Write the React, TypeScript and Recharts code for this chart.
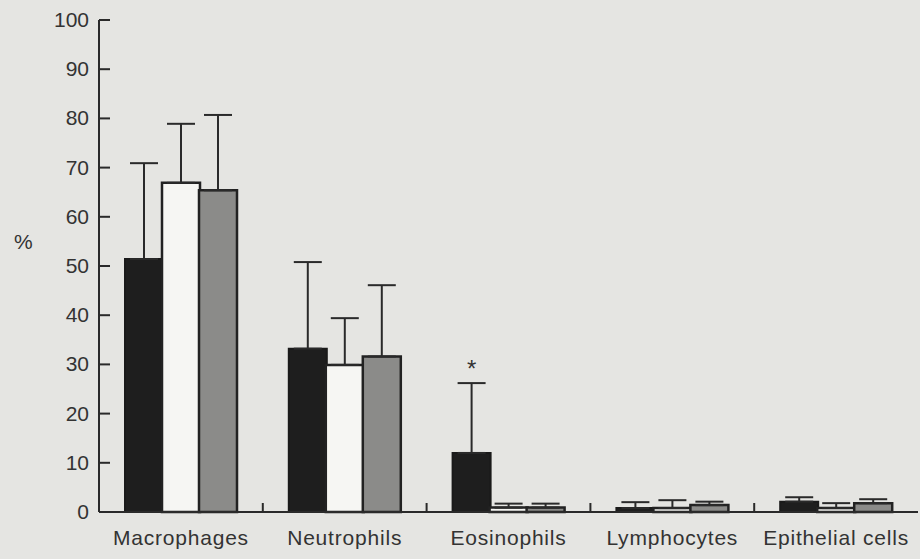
import { BarChart, Bar, XAxis, YAxis, ErrorBar, LabelList } from "recharts";

const categories = ["Macrophages", "Neutrophils", "Eosinophils", "Lymphocytes", "Epithelial cells"];

// group 1 (black), group 2 (white), group 3 (grey): mean and upper SD in %
const blackMean = [51.4, 33.2, 12, 0.8, 2.1];
const blackSd = [19.5, 17.6, 14.2, 1.2, 0.9];
const whiteMean = [66.9, 29.9, 0.9, 0.8, 0.8];
const whiteSd = [12, 9.5, 0.8, 1.6, 1.0];
const greyMean = [65.4, 31.6, 0.9, 1.4, 1.8];
const greySd = [15.3, 14.5, 0.8, 0.7, 0.8];
const significance = ["", "", "*", "", ""];

const yTicks = [0, 10, 20, 30, 40, 50, 60, 70, 80, 90, 100];

const data = categories.map((name, i) => ({
  name,
  black: blackMean[i],
  white: whiteMean[i],
  grey: greyMean[i],
  sig: significance[i],
}));

const W = 920;
const H = 559;
const Y_AXIS_W = 99;
const MARGIN = { top: 20, right: 2, left: 0, bottom: 0 };
const PLOT_W = W - Y_AXIS_W - MARGIN.left - MARGIN.right;
const INK = "#2a2a2a";
const FONT = "'Liberation Sans', Arial, Helvetica, sans-serif";

function YTick(props: any) {
  const { x, y, payload } = props;
  const axisX = x + 10;
  return (
    <g>
      <line x1={axisX} x2={axisX + 11} y1={y} y2={y} stroke={INK} strokeWidth={2} />
      <text x={x} y={y} dy={7} textAnchor="end" fontSize={21} fill="#333" fontFamily={FONT}>
        {payload.value}
      </text>
    </g>
  );
}

function XTick(props: any) {
  const { x, y, payload, index } = props;
  const band = PLOT_W / categories.length;
  const bx = x - band / 2;
  return (
    <g>
      {index > 0 && (
        <line x1={bx} x2={bx} y1={y} y2={y - 9} stroke={INK} strokeWidth={2} />
      )}
      <text
        x={x}
        y={y}
        dy={33}
        textAnchor="middle"
        fontSize={21}
        letterSpacing={0.8}
        fill="#333"
        fontFamily={FONT}
      >
        {payload.value}
      </text>
    </g>
  );
}

function Star(props: any) {
  const { x, y, width, height, index } = props;
  const s = significance[index];
  if (!s) return null;
  const pxPerUnit = height / blackMean[index];
  const top = y - pxPerUnit * blackSd[index];
  return (
    <text x={x + width / 2} y={top - 6} textAnchor="middle" fontSize={24} fill="#333" fontFamily={FONT}>
      {s}
    </text>
  );
}

export default function App() {
  return (
    <div
      style={{
        position: "absolute",
        left: 0,
        top: 0,
        width: W,
        height: H,
        background: "#e5e5e2",
        fontFamily: FONT,
      }}
    >
      <BarChart width={W} height={H} data={data} margin={MARGIN} barSize={38} barGap={-1}>
        <XAxis
          dataKey="name"
          height={H - 512 - MARGIN.bottom}
          stroke={INK}
          strokeWidth={2}
          tickLine={false}
          tickSize={0}
          tickMargin={0}
          interval={0}
          tick={<XTick />}
        />
        <YAxis
          domain={[0, 100]}
          ticks={yTicks}
          width={Y_AXIS_W}
          stroke={INK}
          strokeWidth={2}
          tickLine={false}
          tickSize={0}
          tickMargin={10}
          interval={0}
          tick={<YTick />}
          label={{
            value: "%",
            position: "insideLeft",
            offset: 14,
            dy: -24,
            fontSize: 21,
            fill: "#333",
            fontFamily: FONT,
          }}
        />
        <Bar dataKey="black" fill="#1e1e1e" stroke="#1a1a1a" strokeWidth={2} isAnimationActive={false}>
          <ErrorBar
            dataKey={(d: any) => [0, blackSd[categories.indexOf(d.name)]]}
            width={14}
            stroke={INK}
            strokeWidth={2}
            direction="y"
            isAnimationActive={false}
          />
          <LabelList dataKey="sig" content={<Star />} />
        </Bar>
        <Bar dataKey="white" fill="#f6f6f3" stroke="#222" strokeWidth={2.5} isAnimationActive={false}>
          <ErrorBar
            dataKey={(d: any) => [0, whiteSd[categories.indexOf(d.name)]]}
            width={14}
            stroke={INK}
            strokeWidth={2}
            direction="y"
            isAnimationActive={false}
          />
        </Bar>
        <Bar dataKey="grey" fill="#8b8b89" stroke="#222" strokeWidth={2.5} isAnimationActive={false}>
          <ErrorBar
            dataKey={(d: any) => [0, greySd[categories.indexOf(d.name)]]}
            width={14}
            stroke={INK}
            strokeWidth={2}
            direction="y"
            isAnimationActive={false}
          />
        </Bar>
      </BarChart>
    </div>
  );
}
